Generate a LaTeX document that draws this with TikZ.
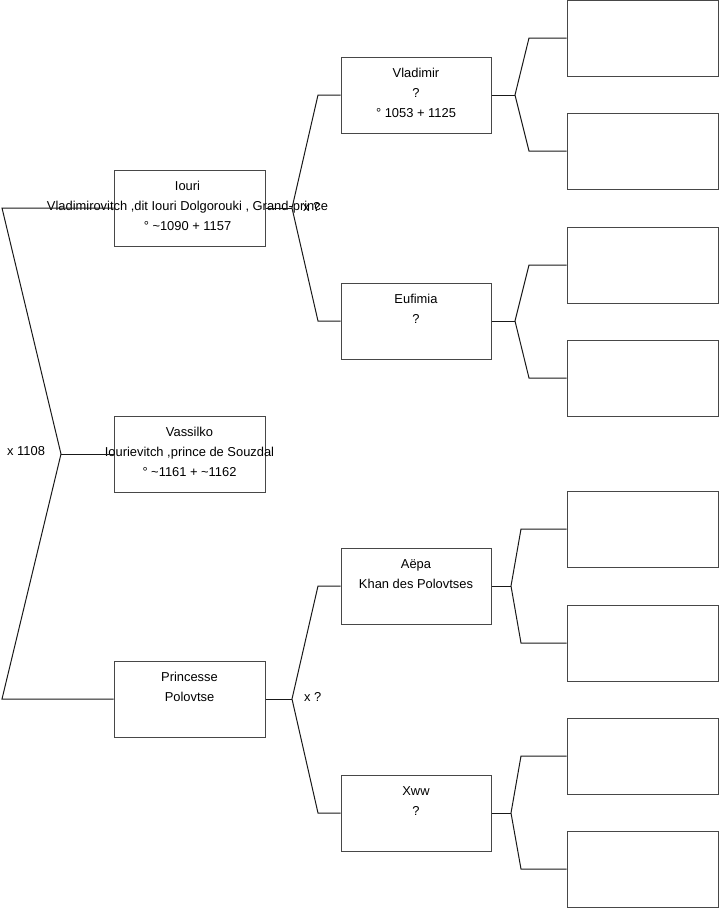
\documentclass[tikz,border=0pt]{standalone}
\usepackage{fontspec}
\setmainfont{Liberation Sans}
\begin{document}
\begin{tikzpicture}[x=1pt,y=-1pt,
  box/.style={draw=black!72, line width=1pt, minimum width=151pt, minimum height=76pt, inner sep=0pt, rectangle},
  wire/.style={draw=black!90, line width=1pt},
  txt/.style={font=\fontsize{12.9}{20}\selectfont, align=center, inner sep=0pt, anchor=north},
  lbl/.style={font=\fontsize{12.9}{20}\selectfont, inner sep=0pt}]
\useasboundingbox (0,0) rectangle (719,908);

% generation 1
\node[box] (iouri) at (189.5,208) {};
\node[box] (vass) at (189.5,454) {};
\node[box] (princ) at (189.5,699) {};
% generation 2
\node[box, minimum width=150pt] (vlad) at (416,95) {};
\node[box, minimum width=150pt] (eufi) at (416,321) {};
\node[box, minimum width=150pt] (aepa) at (416,586) {};
\node[box, minimum width=150pt] (xww) at (416,813) {};
% generation 3
\node[box] (r1) at (642.5,38) {};
\node[box] (r2) at (642.5,151) {};
\node[box] (r3) at (642.5,265) {};
\node[box] (r4) at (642.5,378) {};
\node[box] (r5) at (642.5,529) {};
\node[box] (r6) at (642.5,643) {};
\node[box] (r7) at (642.5,756) {};
\node[box] (r8) at (642.5,869) {};

% texts
\node[txt] (tiouri) at ([xshift=-2pt,yshift=-7pt]iouri.north) {\strut Iouri\\Vladimirovitch ,dit Iouri Dolgorouki , Grand-prince\\° \textasciitilde1090 + 1157};
\node[txt] (tvass) at ([yshift=-7pt]vass.north) {\strut Vassilko\\Iourievitch ,prince de Souzdal\\° \textasciitilde1161 + \textasciitilde1162};
\node[txt] (tprinc) at ([yshift=-7pt]princ.north) {\strut Princesse\\Polovtse};
\node[txt] (tvlad) at ([yshift=-7pt]vlad.north) {\strut Vladimir\\?\\° 1053 + 1125};
\node[txt] (teufi) at ([yshift=-7pt]eufi.north) {\strut Eufimia\\?};
\node[txt] (taepa) at ([yshift=-7pt]aepa.north) {\strut Aëpa\\Khan des Polovtses};
\node[txt] (txww) at ([yshift=-7pt]xww.north) {\strut Xww\\?};

% coordinates
\coordinate (c1) at (2,208);
\coordinate (c2) at (2,699);
\coordinate (j0) at (61,454);
\coordinate (j1) at (292,208);
\coordinate (j2) at (292,699);
\coordinate (b1) at (318,95);
\coordinate (b2) at (318,321);
\coordinate (b3) at (318,586);
\coordinate (b4) at (318,813);
\coordinate (k1) at (515,95);
\coordinate (k2) at (515,321);
\coordinate (k3) at (511,586);
\coordinate (k4) at (511,813);
\coordinate (d1) at (529,38);
\coordinate (d2) at (529,151);
\coordinate (d3) at (529,265);
\coordinate (d4) at (529,378);
\coordinate (d5) at (521,529);
\coordinate (d6) at (521,643);
\coordinate (d7) at (521,756);
\coordinate (d8) at (521,869);

% connectors
\draw[wire] (iouri.west) -- (c1) -- (j0) -- (c2) -- (princ.west);
\draw[wire] (j0) -- (vass.west);
\draw[wire] (iouri.east) -- (j1);
\draw[wire] (vlad.west) -- (b1) -- (j1) -- (b2) -- (eufi.west);
\draw[wire] (princ.east) -- (j2);
\draw[wire] (aepa.west) -- (b3) -- (j2) -- (b4) -- (xww.west);
\draw[wire] (vlad.east) -- (k1);
\draw[wire] (r1.west) -- (d1) -- (k1) -- (d2) -- (r2.west);
\draw[wire] (eufi.east) -- (k2);
\draw[wire] (r3.west) -- (d3) -- (k2) -- (d4) -- (r4.west);
\draw[wire] (aepa.east) -- (k3);
\draw[wire] (r5.west) -- (d5) -- (k3) -- (d6) -- (r6.west);
\draw[wire] (xww.east) -- (k4);
\draw[wire] (r7.west) -- (d7) -- (k4) -- (d8) -- (r8.west);

% marriage labels
\node[lbl, anchor=west] (m0) at (7,451) {x 1108};
\node[lbl, anchor=west] (m1) at (303,207) {x ?};
\node[lbl, anchor=west] (m2) at (304,697) {x ?};
\end{tikzpicture}
\end{document}
